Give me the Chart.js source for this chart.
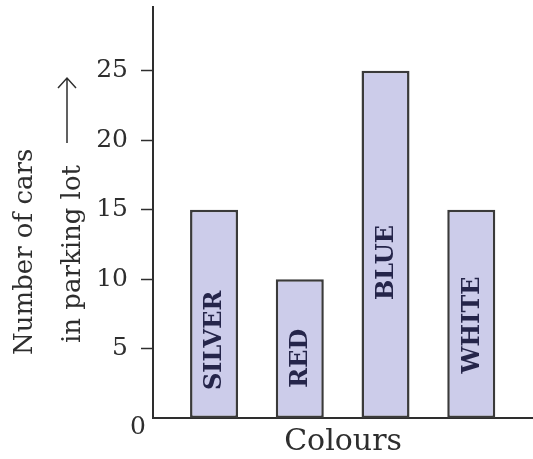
<!DOCTYPE html>
<html>
<head>
<meta charset="utf-8">
<script src="https://cdn.jsdelivr.net/npm/chart.js@4"></script>
<style>
  body { margin: 0; background: #fff; }
  #wrap { width: 533px; height: 459px; }
</style>
</head>
<body>
<div id="wrap"><canvas id="chart" width="533" height="459"></canvas></div>
<script>
// data
const categories = ['SILVER', 'RED', 'BLUE', 'WHITE'];
const carCounts = [15, 10, 25, 15];
const yTicks = [5, 10, 15, 20, 25];
// where the rotated name sits inside each bar (in y units)
const labelMid = [5.6, 4.3, 11.2, 6.7];

const ink = '#2e2e2e';
const serif = '"DejaVu Serif", "Liberation Serif", serif';

const overlay = {
  id: 'overlay',
  afterDatasetsDraw(chart) {
    const { ctx, scales: { x, y } } = chart;
    ctx.save();

    // colour names written up the bars
    ctx.font = 'bold 24px ' + serif;
    ctx.fillStyle = '#25254a';
    ctx.textAlign = 'center';
    ctx.textBaseline = 'middle';
    categories.forEach((c, i) => {
      ctx.save();
      ctx.translate(x.getPixelForValue(i + 1), y.getPixelForValue(labelMid[i]));
      ctx.rotate(-Math.PI / 2);
      ctx.fillText(c, 0, 1);
      ctx.restore();
    });

    // the lone 0 sits below-left of the corner
    ctx.font = '25px ' + serif;
    ctx.fillStyle = ink;
    ctx.fillText('0', y.right - 15, y.getPixelForValue(0) + 9);

    // y title, two lines plus arrow
    ctx.textAlign = 'left';
    ctx.textBaseline = 'alphabetic';
    ctx.font = '26px ' + serif;
    ctx.save();
    ctx.translate(32, 355);
    ctx.rotate(-Math.PI / 2);
    ctx.fillText('Number of cars', 0, 0);
    ctx.restore();
    ctx.save();
    ctx.translate(80, 343);
    ctx.rotate(-Math.PI / 2);
    ctx.fillText('in parking lot', 0, 0);
    ctx.restore();

    ctx.strokeStyle = ink;
    ctx.lineWidth = 1.5;
    ctx.beginPath();
    ctx.moveTo(67, 143);
    ctx.lineTo(67, 78);
    ctx.moveTo(58, 88);
    ctx.lineTo(67, 78);
    ctx.lineTo(76, 88);
    ctx.stroke();

    ctx.restore();
  }
};

new Chart(document.getElementById('chart'), {
  type: 'bar',
  data: {
    datasets: [{
      data: categories.map((c, i) => ({ x: i + 1, y: carCounts[i] })),
      backgroundColor: 'rgb(204, 204, 234)',
      borderColor: '#3a3a3a',
      borderWidth: 2.5,
      borderSkipped: false,
      barPercentage: 0.56,
      categoryPercentage: 1
    }]
  },
  options: {
    responsive: false,
    animation: false,
    layout: { padding: { left: 93, top: 7, right: 0, bottom: 0 } },
    plugins: { legend: { display: false }, tooltip: { enabled: false } },
    scales: {
      x: {
        type: 'linear',
        offset: false,
        min: 0.288,
        max: 4.72,
        afterBuildTicks(s) { s.ticks = categories.map((c, i) => ({ value: i + 1 })); },
        ticks: { display: false },
        grid: { display: false, drawTicks: false, offset: false },
        border: { color: ink, width: 2 },
        title: {
          display: true,
          text: 'Colours',
          color: ink,
          font: { family: serif, size: 30, lineHeight: 1.1 },
          padding: { top: 8, bottom: 0 }
        }
      },
      y: {
        min: 0,
        max: 29.6,
        afterFit(s) { s.width = 60; s.paddingTop = 0; s.paddingBottom = 0; },
        afterBuildTicks(s) { s.ticks = yTicks.map(v => ({ value: v })); },
        ticks: { color: ink, padding: 13, font: { family: serif, size: 25 } },
        grid: { drawOnChartArea: false, tickLength: 12, tickColor: ink, tickWidth: 1.5 },
        border: { color: ink, width: 2 }
      }
    }
  },
  plugins: [overlay]
});
</script>
</body>
</html>
